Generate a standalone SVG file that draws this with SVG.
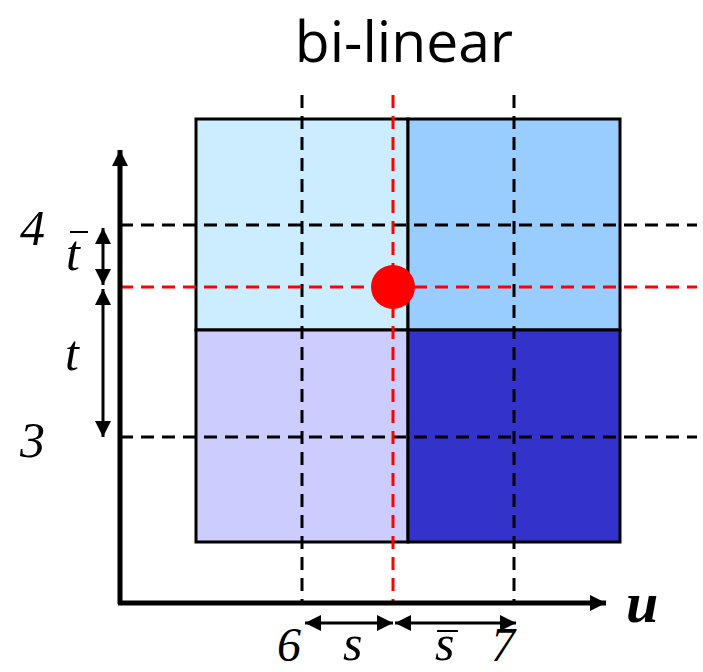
<svg xmlns="http://www.w3.org/2000/svg" width="703" height="672" viewBox="0 0 703 672">
<defs>
<style>
.dash{stroke:#000;stroke-width:3;stroke-dasharray:13 8;fill:none}
.red{stroke:#FF0000;stroke-width:3;stroke-dasharray:13 8;fill:none}
.cell{stroke:#000;stroke-width:3}
.lbl{font-family:"Liberation Serif",serif;font-style:italic;font-size:50px;fill:#000}
.arr{stroke:#000;stroke-width:3;fill:none}
</style>
<marker id="ah2" viewBox="0 0 10 10" refX="10" refY="5" markerWidth="16" markerHeight="16" orient="auto-start-reverse" markerUnits="userSpaceOnUse">
<path d="M0,0 L10,5 L0,10 z" fill="#000"/>
</marker>
</defs>
<rect width="703" height="672" fill="#fff"/>
<text x="404" y="62" text-anchor="middle" font-family="'Open Sans',sans-serif" font-size="57" fill="#000">bi-linear</text>
<g id="cells">
<rect class="cell" x="196" y="119" width="212" height="211" fill="#CCECFF"/>
<rect class="cell" x="408" y="119" width="212" height="211" fill="#99CCFF"/>
<rect class="cell" x="196" y="330" width="212" height="212" fill="#CCCCFF"/>
<rect class="cell" x="408" y="330" width="212" height="212" fill="#3333CC"/>
</g>
<g id="grid">
<line class="dash" x1="302" y1="95" x2="302" y2="603"/>
<line class="dash" x1="514" y1="95" x2="514" y2="603"/>
<line class="dash" x1="120" y1="225" x2="697" y2="225"/>
<line class="dash" x1="120" y1="437" x2="697" y2="437"/>
<line class="red" x1="393" y1="95" x2="393" y2="603"/>
<line class="red" x1="120" y1="287" x2="697" y2="287"/>
</g>
<g id="axes">
<line x1="120" y1="604" x2="120" y2="150" stroke="#000" stroke-width="5" marker-end="url(#ah2)"/>
<line x1="118" y1="603" x2="606" y2="603" stroke="#000" stroke-width="5" marker-end="url(#ah2)"/>
</g>
<circle id="point" cx="393" cy="287" r="22" fill="#FF0000"/>
<g id="measures">
<line class="arr" x1="103" y1="228" x2="103" y2="285" marker-start="url(#ah2)" marker-end="url(#ah2)"/>
<line class="arr" x1="103" y1="289" x2="103" y2="437" marker-start="url(#ah2)" marker-end="url(#ah2)"/>
<line class="arr" x1="305" y1="623" x2="393" y2="623" marker-start="url(#ah2)" marker-end="url(#ah2)"/>
<line class="arr" x1="395" y1="623" x2="516" y2="623" marker-start="url(#ah2)" marker-end="url(#ah2)"/>
</g>
<g id="labels">
<text class="lbl" x="20" y="245">4</text>
<text class="lbl" x="20" y="457">3</text>
<text class="lbl" x="66" y="270">t</text>
<line x1="70" y1="232" x2="88" y2="232" stroke="#000" stroke-width="2"/>
<text class="lbl" x="65" y="370">t</text>
<text class="lbl" x="277" y="661" style="font-size:48px">6</text>
<text class="lbl" x="343" y="660">s</text>
<text class="lbl" x="435" y="660">s</text>
<line x1="437" y1="631" x2="458" y2="631" stroke="#000" stroke-width="2"/>
<text class="lbl" x="491" y="661" style="font-size:48px">7</text>
<text x="626" y="622" font-family="'Liberation Serif',serif" font-style="italic" font-weight="bold" font-size="58" fill="#000">u</text>
</g>
</svg>
